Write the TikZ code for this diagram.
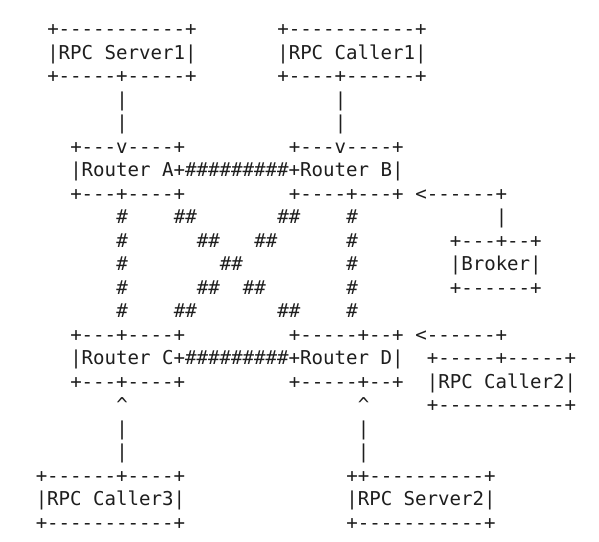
\documentclass[tikz,border=0pt]{standalone}
\usepackage{fontspec}
\setmonofont{DejaVu Sans Mono}
\definecolor{ink}{RGB}{30,30,30}
\newcounter{segn}
\newcommand{\seg}[3]{\stepcounter{segn}\node[asc] (s\arabic{segn}) at ({35.75pt+#2*11.5pt},{-35.8pt-(#1-1)*23.5pt}) {#3};}
\tikzset{asc/.style={anchor=base west,inner sep=0pt,outer sep=0pt,text=ink,font=\ttfamily\fontsize{19.1pt}{23.5pt}\selectfont}}
\begin{document}
\begin{tikzpicture}
\fill[white] (0,0) rectangle (599pt,-541pt);
\useasboundingbox (0,0) rectangle (599pt,-541pt);
% line 1-3: RPC Server1, RPC Caller1
\seg{1}{1}{+-----------+}
\seg{1}{21}{+-----------+}
\seg{2}{1}{|RPC Server1|}
\seg{2}{21}{|RPC Caller1|}
\seg{3}{1}{+-----+-----+}
\seg{3}{21}{+----+------+}
\seg{4}{7}{|}
\seg{4}{26}{|}
\seg{5}{7}{|}
\seg{5}{26}{|}
% routers A, B
\seg{6}{3}{+---v----+}
\seg{6}{22}{+---v----+}
\seg{7}{3}{|Router A+\#\#\#\#\#\#\#\#\#+Router B|}
\seg{8}{3}{+---+----+}
\seg{8}{22}{+----+---+}
\seg{8}{33}{<------+}
% mesh
\seg{9}{7}{\#}
\seg{9}{12}{\#\#}
\seg{9}{21}{\#\#}
\seg{9}{27}{\#}
\seg{9}{40}{|}
\seg{10}{7}{\#}
\seg{10}{14}{\#\#}
\seg{10}{19}{\#\#}
\seg{10}{27}{\#}
\seg{10}{36}{+---+--+}
\seg{11}{7}{\#}
\seg{11}{16}{\#\#}
\seg{11}{27}{\#}
\seg{11}{36}{|Broker|}
\seg{12}{7}{\#}
\seg{12}{14}{\#\#}
\seg{12}{18}{\#\#}
\seg{12}{27}{\#}
\seg{12}{36}{+------+}
\seg{13}{7}{\#}
\seg{13}{12}{\#\#}
\seg{13}{21}{\#\#}
\seg{13}{27}{\#}
% routers C, D
\seg{14}{3}{+---+----+}
\seg{14}{22}{+-----+--+}
\seg{14}{33}{<------+}
\seg{15}{3}{|Router C+\#\#\#\#\#\#\#\#\#+Router D|}
\seg{15}{34}{+-----+-----+}
\seg{16}{3}{+---+----+}
\seg{16}{22}{+-----+--+}
\seg{16}{34}{|RPC Caller2|}
\seg{17}{7}{\textasciicircum}
\seg{17}{28}{\textasciicircum}
\seg{17}{34}{+-----------+}
\seg{18}{7}{|}
\seg{18}{28}{|}
\seg{19}{7}{|}
\seg{19}{28}{|}
% RPC Caller3, RPC Server2
\seg{20}{0}{+------+----+}
\seg{20}{27}{++----------+}
\seg{21}{0}{|RPC Caller3|}
\seg{21}{27}{|RPC Server2|}
\seg{22}{0}{+-----------+}
\seg{22}{27}{+-----------+}
\end{tikzpicture}
\end{document}
